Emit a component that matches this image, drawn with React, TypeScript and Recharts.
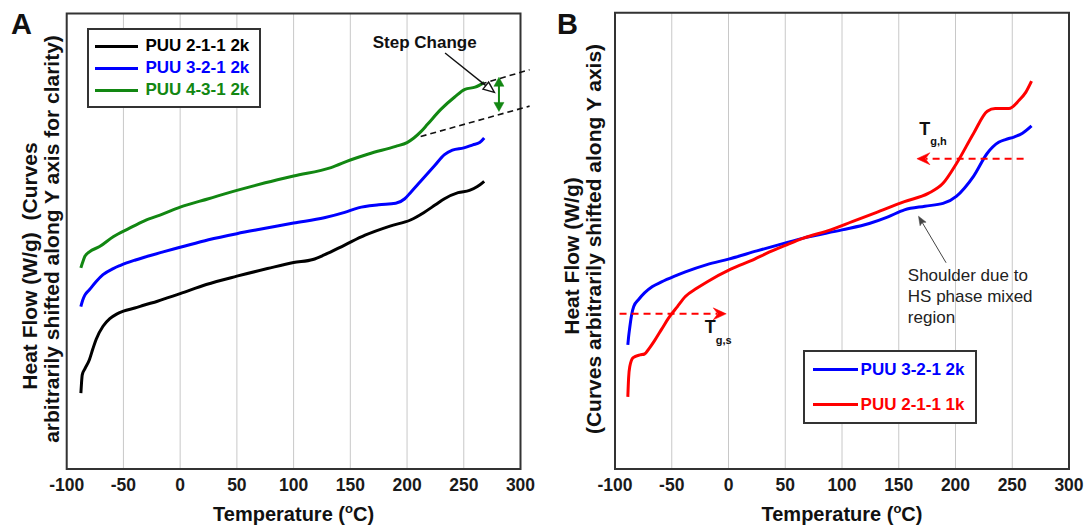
import React from 'react';
import {
  LineChart,
  Line,
  XAxis,
  YAxis,
  CartesianGrid,
  ReferenceLine,
  ReferenceArea,
  ReferenceDot,
  Legend,
} from 'recharts';

const FONT = '"Liberation Sans", Arial, Helvetica, sans-serif';

const tempTicks = [-100, -50, 0, 50, 100, 150, 200, 250, 300];
const gridA = [0, 1, 2, 3, 4, 5, 6];
const gridB = [0, 1, 2, 3, 4, 5];

// panel A, curves shifted along y (grid units)
const a211Temp = [-87.5, -87, -86.3, -84, -80, -77, -74, -68, -62, -56, -50, -40, -31.5, -20, -10, 0, 23, 50, 77, 100, 117, 127, 145, 163, 185, 203, 215, 225, 233, 245, 255, 262, 268];
const a211Flow = [1.0, 1.12, 1.24, 1.32, 1.44, 1.58, 1.71, 1.88, 1.98, 2.04, 2.08, 2.12, 2.16, 2.21, 2.26, 2.31, 2.43, 2.54, 2.64, 2.72, 2.76, 2.82, 2.95, 3.08, 3.2, 3.28, 3.38, 3.48, 3.56, 3.64, 3.67, 3.72, 3.79];

const a321Temp = [-87.5, -86, -84, -80, -74, -68, -59, -53, -40, -31.5, -15, 0, 25, 50, 75, 100, 127, 145, 157, 175, 190, 198, 203, 212, 224, 233, 240, 250, 258, 264, 268];
const a321Flow = [2.14, 2.22, 2.29, 2.36, 2.47, 2.56, 2.64, 2.68, 2.75, 2.79, 2.86, 2.92, 3.02, 3.1, 3.17, 3.24, 3.31, 3.38, 3.44, 3.48, 3.5, 3.56, 3.64, 3.79, 3.99, 4.14, 4.2, 4.23, 4.27, 4.3, 4.36];

const a431Temp = [-87.5, -86, -84, -80, -71, -59, -45, -31.5, -15, 0, 25, 50, 75, 100, 133, 150, 166, 190, 200, 206, 212, 218, 230, 242, 251, 260, 268];
const a431Flow = [2.65, 2.72, 2.8, 2.86, 2.93, 3.06, 3.17, 3.27, 3.36, 3.45, 3.56, 3.67, 3.77, 3.86, 3.97, 4.07, 4.15, 4.25, 4.3, 4.36, 4.44, 4.54, 4.74, 4.9, 5.0, 5.03, 5.09];

// panel B
const b321Temp = [-88.7, -88, -87, -85.5, -83.5, -79, -74, -67, -59, -48, -38, -19, 0, 25, 48, 66, 100, 124, 140, 155, 173, 189, 201, 208, 216, 228, 238, 244, 252, 259, 267];
const b321Flow = [1.36, 1.45, 1.55, 1.68, 1.78, 1.86, 1.93, 2.0, 2.05, 2.11, 2.16, 2.24, 2.3, 2.39, 2.47, 2.53, 2.62, 2.69, 2.76, 2.84, 2.88, 2.91, 2.99, 3.08, 3.21, 3.46, 3.58, 3.61, 3.64, 3.68, 3.76];

const b211Temp = [-88.7, -88, -87, -84, -78, -74, -70, -65, -59, -53, -45, -38, -28, -19, 2, 23, 33, 50, 66, 90, 109, 130, 155, 176, 189, 201, 216, 228, 235, 247, 256, 262, 267];
const b211Flow = [0.79, 1.0, 1.12, 1.22, 1.25, 1.26, 1.32, 1.41, 1.53, 1.65, 1.78, 1.89, 1.98, 2.05, 2.19, 2.3, 2.36, 2.45, 2.53, 2.62, 2.71, 2.81, 2.93, 3.02, 3.13, 3.35, 3.68, 3.92, 3.95, 3.95, 4.04, 4.13, 4.25];

const legendA = ['PUU 2-1-1 2k', 'PUU 3-2-1 2k', 'PUU 4-3-1 2k'];
const legendB = ['PUU 3-2-1 2k', 'PUU 2-1-1 1k'];

const zip = (t: number[], v: number[]) => t.map((x, i) => ({ t: x, v: v[i] }));

type ArrowOpts = {
  color: string;
  width?: number;
  dash?: string;
  head?: number;
  spread?: number;
  notch?: number;
  start?: boolean;
  end?: boolean;
  hollow?: boolean;
};

const arrowShape = (o: ArrowOpts) => (p: any) => {
  const { x1, y1, x2, y2 } = p;
  if ([x1, y1, x2, y2].some((n) => typeof n !== 'number' || isNaN(n))) return <g />;
  const len = Math.hypot(x2 - x1, y2 - y1) || 1;
  const ux = (x2 - x1) / len;
  const uy = (y2 - y1) / len;
  const h = o.head ?? 10;
  const w = o.spread ?? 5;
  const nf = o.notch ?? 0;
  const tri = (tx: number, ty: number, dx: number, dy: number) => {
    const bx = tx - dx * h;
    const by = ty - dy * h;
    const nx = tx - dx * h * (1 - nf);
    const ny = ty - dy * h * (1 - nf);
    return `${tx},${ty} ${bx - dy * w},${by + dx * w} ${nx},${ny} ${bx + dy * w},${by - dx * w}`;
  };
  const cut = o.hollow ? h : h * 0.7;
  const sx = x1 + (o.start ? ux * cut : 0);
  const sy = y1 + (o.start ? uy * cut : 0);
  const ex = x2 - (o.end ? ux * cut : 0);
  const ey = y2 - (o.end ? uy * cut : 0);
  const headFill = o.hollow ? 'none' : o.color;
  return (
    <g>
      <line x1={sx} y1={sy} x2={ex} y2={ey} stroke={o.color} strokeWidth={o.width ?? 1.5} strokeDasharray={o.dash} />
      {o.end && <polygon points={tri(x2, y2, ux, uy)} fill={headFill} stroke={o.color} strokeWidth={o.hollow ? 1.4 : 0.5} />}
      {o.start && <polygon points={tri(x1, y1, -ux, -uy)} fill={headFill} stroke={o.color} strokeWidth={o.hollow ? 1.4 : 0.5} />}
    </g>
  );
};

const textShape = (render: (x: number, y: number) => React.ReactElement) => (p: any) => render(p.cx, p.cy);

const makeLegend =
  (order: string[], rowH: number, pad: number, swL: number, swW: number, gap: number, width: number) =>
  (props: any) => {
    const items = order
      .map((n) => (props.payload || []).find((e: any) => e.value === n))
      .filter(Boolean);
    return (
      <div
        style={{
          width,
          boxSizing: 'border-box',
          border: '2px solid #333',
          background: '#fff',
          padding: `${pad}px 0`,
        }}
      >
        {items.map((e: any) => (
          <div
            key={e.value}
            style={{
              height: rowH,
              display: 'flex',
              alignItems: 'center',
              fontFamily: FONT,
              fontWeight: 'bold',
              fontSize: 17,
              color: e.color,
              whiteSpace: 'nowrap',
            }}
          >
            <span style={{ display: 'inline-block', width: swW, height: 3, background: e.color, marginLeft: swL, marginRight: gap }} />
            <span>{e.value}</span>
          </div>
        ))}
      </div>
    );
  };

const tickStyle = { fontSize: 17.5, fontWeight: 'bold', fill: '#1a1a1a', fontFamily: FONT };

const PanelA = () => (
  <LineChart width={540} height={526} margin={{ top: 13.5, right: 19.5, left: 66.7, bottom: 27 }}>
    <CartesianGrid stroke="#c8c8c8" strokeWidth={1} />
    <XAxis
      type="number"
      dataKey="t"
      domain={[-100, 300]}
      ticks={tempTicks}
      allowDataOverflow
      tick={tickStyle}
      tickLine={false}
      axisLine={false}
      tickMargin={4}
      height={30}
    />
    <YAxis type="number" domain={[0, 6]} ticks={gridA} width={0} tick={false} tickLine={false} axisLine={false} />
    <ReferenceArea x1={-100} x2={300} y1={0} y2={6} fill="none" stroke="#333" strokeWidth={2} ifOverflow="visible" />
    <Line data={zip(a211Temp, a211Flow)} dataKey="v" name={legendA[0]} type="monotone" stroke="#000000" strokeWidth={3} dot={false} isAnimationActive={false} />
    <Line data={zip(a321Temp, a321Flow)} dataKey="v" name={legendA[1]} type="monotone" stroke="#0000ff" strokeWidth={3} dot={false} isAnimationActive={false} />
    <Line data={zip(a431Temp, a431Flow)} dataKey="v" name={legendA[2]} type="monotone" stroke="#128712" strokeWidth={3} dot={false} isAnimationActive={false} />
    <ReferenceLine
      segment={[{ x: 212, y: 4.38 }, { x: 308, y: 4.78 }]}
      ifOverflow="visible"
      shape={arrowShape({ color: '#111', width: 1.6, dash: '6 4' })}
    />
    <ReferenceLine
      segment={[{ x: 265, y: 5.07 }, { x: 308, y: 5.26 }]}
      ifOverflow="visible"
      shape={arrowShape({ color: '#111', width: 1.6, dash: '6 4' })}
    />
    <ReferenceLine
      segment={[{ x: 233.5, y: 5.48 }, { x: 277, y: 4.96 }]}
      ifOverflow="visible"
      shape={arrowShape({ color: '#111', width: 1.4, end: true, hollow: true, head: 11, spread: 4.5 })}
    />
    <ReferenceLine
      segment={[{ x: 281, y: 5.16 }, { x: 281, y: 4.71 }]}
      ifOverflow="visible"
      shape={arrowShape({ color: '#128712', width: 2, start: true, end: true, head: 9, spread: 5 })}
    />
    <ReferenceDot
      x={215.6}
      y={5.55}
      ifOverflow="visible"
      shape={textShape((x, y) => (
        <text x={x} y={y} textAnchor="middle" fontFamily={FONT} fontWeight="bold" fontSize={17} fill="#111">
          Step Change
        </text>
      ))}
    />
    <Legend
      layout="vertical"
      align="center"
      verticalAlign="middle"
      wrapperStyle={{ left: 87.4, top: 28, width: 174 }}
      content={makeLegend(legendA, 22, 5, 6, 43, 7, 174)}
    />
  </LineChart>
);

const PanelB = () => (
  <LineChart width={544} height={526} margin={{ top: 12.7, right: 15, left: 75, bottom: 27 }}>
    <CartesianGrid stroke="#c8c8c8" strokeWidth={1} />
    <XAxis
      type="number"
      dataKey="t"
      domain={[-100, 300]}
      ticks={tempTicks}
      allowDataOverflow
      tick={tickStyle}
      tickLine={false}
      axisLine={false}
      tickMargin={4}
      height={30}
    />
    <YAxis type="number" domain={[0, 5]} ticks={gridB} width={0} tick={false} tickLine={false} axisLine={false} />
    <ReferenceArea x1={-100} x2={300} y1={0} y2={5} fill="none" stroke="#333" strokeWidth={2} ifOverflow="visible" />
    <Line data={zip(b321Temp, b321Flow)} dataKey="v" name={legendB[0]} type="monotone" stroke="#0000ff" strokeWidth={3} dot={false} isAnimationActive={false} />
    <Line data={zip(b211Temp, b211Flow)} dataKey="v" name={legendB[1]} type="monotone" stroke="#ff0000" strokeWidth={3} dot={false} isAnimationActive={false} />
    <ReferenceLine
      segment={[{ x: 260, y: 3.4 }, { x: 166, y: 3.4 }]}
      ifOverflow="visible"
      shape={arrowShape({ color: '#ff0000', width: 2, dash: '7 5', end: true, head: 13, spread: 6, notch: 0.35 })}
    />
    <ReferenceLine
      segment={[{ x: -96, y: 1.7 }, { x: -2, y: 1.7 }]}
      ifOverflow="visible"
      shape={arrowShape({ color: '#ff0000', width: 2, dash: '7 5', end: true, head: 13, spread: 6, notch: 0.35 })}
    />
    <ReferenceLine
      segment={[{ x: 191.7, y: 2.26 }, { x: 167.4, y: 2.77 }]}
      ifOverflow="visible"
      shape={arrowShape({ color: '#444', width: 1, end: true, head: 9, spread: 3.5, notch: 0.2 })}
    />
    <ReferenceDot
      x={168}
      y={3.66}
      ifOverflow="visible"
      shape={textShape((x, y) => (
        <text x={x} y={y} fontFamily={FONT} fontWeight="bold" fontSize={18} fill="#111">
          T<tspan dy={10} fontSize={11}>g,h</tspan>
        </text>
      ))}
    />
    <ReferenceDot
      x={-21}
      y={1.49}
      ifOverflow="visible"
      shape={textShape((x, y) => (
        <text x={x} y={y} fontFamily={FONT} fontWeight="bold" fontSize={18} fill="#111">
          T<tspan dy={11} fontSize={11}>g,s</tspan>
        </text>
      ))}
    />
    <ReferenceDot
      x={158}
      y={2.06}
      ifOverflow="visible"
      shape={textShape((x, y) => (
        <text x={x} y={y} fontFamily={FONT} fontSize={17} fill="#222">
          <tspan x={x}>Shoulder due to</tspan>
          <tspan x={x} dy={21}>HS phase mixed</tspan>
          <tspan x={x} dy={21}>region</tspan>
        </text>
      ))}
    />
    <Legend
      layout="vertical"
      align="center"
      verticalAlign="middle"
      wrapperStyle={{ left: 262.6, top: 350, width: 174 }}
      content={makeLegend(legendB, 35, 0, 8, 45, 3, 174)}
    />
  </LineChart>
);

const Overlay = () => (
  <svg width={1084} height={526} style={{ position: 'absolute', left: 0, top: 0, pointerEvents: 'none' }}>
    <g fontFamily={FONT} fontWeight="bold" fill="#111">
      <text x={11} y={34} fontSize={29}>A</text>
      <text x={557} y={34} fontSize={29}>B</text>
      <text transform="translate(29,266) rotate(-90)" textAnchor="middle" dominantBaseline="central" fontSize={21}>
        {'Heat Flow (W/g)\u00a0 (Curves'}
      </text>
      <text transform="translate(51,239) rotate(-90)" textAnchor="middle" dominantBaseline="central" fontSize={21}>
        arbitrarily shifted along Y axis for clarity)
      </text>
      <text transform="translate(571,256) rotate(-90)" textAnchor="middle" dominantBaseline="central" fontSize={21}>
        Heat Flow (W/g)
      </text>
      <text transform="translate(593,239) rotate(-90)" textAnchor="middle" dominantBaseline="central" fontSize={21}>
        (Curves arbitrarily shifted along Y axis)
      </text>
      <text x={293.6} y={521} textAnchor="middle" fontSize={20}>
        Temperature (<tspan dy={-8} fontSize={13}>o</tspan>
        <tspan dy={8}>C)</tspan>
      </text>
      <text x={842} y={521} textAnchor="middle" fontSize={20}>
        Temperature (<tspan dy={-8} fontSize={13}>o</tspan>
        <tspan dy={8}>C)</tspan>
      </text>
    </g>
  </svg>
);

export default function App() {
  return (
    <div style={{ position: 'absolute', left: 0, top: 0, width: 1084, height: 526, background: '#fff' }}>
      <div style={{ position: 'absolute', left: 0, top: 0 }}>
        <PanelA />
      </div>
      <div style={{ position: 'absolute', left: 540, top: 0 }}>
        <PanelB />
      </div>
      <Overlay />
    </div>
  );
}
